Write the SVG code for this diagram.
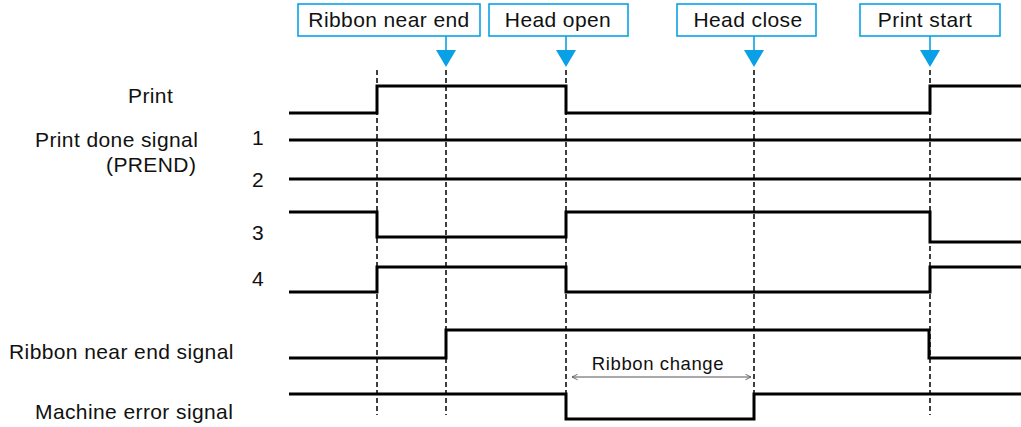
<svg xmlns="http://www.w3.org/2000/svg" width="1021" height="427" viewBox="0 0 1021 427">
<style>
text{font-family:"Liberation Sans",Arial,sans-serif;font-size:21px;letter-spacing:0.4px;fill:#111}
.box{fill:#fff;stroke:#0aa0e6;stroke-width:1.6}
.stem{stroke:#0aa0e6;stroke-width:1.6}
.tri{fill:#0aa0e6}
.sig{fill:none;stroke:#000;stroke-width:3;stroke-linejoin:miter;stroke-linecap:butt}
.dash{stroke:#000;stroke-width:1.5;stroke-dasharray:5 3}
.small{font-size:18.5px;letter-spacing:0.6px}
</style>
<defs>
<marker id="ah" viewBox="0 0 10 10" refX="9" refY="5" markerWidth="7" markerHeight="7" orient="auto-start-reverse" markerUnits="userSpaceOnUse">
<path d="M1,1 L9,5 L1,9" fill="none" stroke="#555" stroke-width="1.2"/>
</marker>
</defs>
<rect width="1021" height="427" fill="#fff"/>

<g id="event-ribbon-near-end">
<rect class="box" x="298" y="4" width="182" height="32"/>
<text x="389" y="27" text-anchor="middle">Ribbon near end</text>
<line class="stem" x1="446" y1="36" x2="446" y2="51"/>
<polygon class="tri" points="436,50 456,50 446,67"/>
</g>
<g id="event-head-open">
<rect class="box" x="489" y="4" width="139" height="32"/>
<text x="558" y="27" text-anchor="middle">Head open</text>
<line class="stem" x1="566" y1="36" x2="566" y2="51"/>
<polygon class="tri" points="556,50 576,50 566,67"/>
</g>
<g id="event-head-close">
<rect class="box" x="677" y="4" width="139" height="32"/>
<text x="748" y="27" text-anchor="middle">Head close</text>
<line class="stem" x1="754" y1="36" x2="754" y2="51"/>
<polygon class="tri" points="744,50 764,50 754,67"/>
</g>
<g id="event-print-start">
<rect class="box" x="860" y="4" width="140" height="32"/>
<text x="925" y="27" text-anchor="middle">Print start</text>
<line class="stem" x1="930" y1="36" x2="930" y2="51"/>
<polygon class="tri" points="920,50 940,50 930,67"/>
</g>

<g id="labels">
<text x="128" y="103">Print</text>
<text x="35" y="147">Print done signal</text>
<text x="106" y="172" letter-spacing="1.3">(PREND)</text>
<text x="252" y="145">1</text>
<text x="252" y="187">2</text>
<text x="252" y="240">3</text>
<text x="252" y="286">4</text>
<text x="9" y="359">Ribbon near end signal</text>
<text x="35" y="419">Machine error signal</text>
</g>

<g id="guides">
<line class="dash" x1="377" y1="70" x2="377" y2="415"/>
<line class="dash" x1="446" y1="70" x2="446" y2="415"/>
<line class="dash" x1="566" y1="70" x2="566" y2="415"/>
<line class="dash" x1="754" y1="70" x2="754" y2="415"/>
<line class="dash" x1="930" y1="70" x2="930" y2="415"/>
</g>

<g id="signals">
<path id="sig-print" class="sig" d="M289,113 H377 V86 H566 V113 H930 V86 H1021"/>
<path id="sig-prend1" class="sig" d="M289,140 H1021"/>
<path id="sig-prend2" class="sig" d="M289,179 H1021"/>
<path id="sig-prend3" class="sig" d="M289,212 H377 V237 H566 V212 H930 V242 H1021"/>
<path id="sig-prend4" class="sig" d="M289,292 H377 V267 H566 V292 H930 V267 H1021"/>
<path id="sig-ribbon" class="sig" d="M289,358 H446 V330 H929 V358 H1021"/>
<path id="sig-error" class="sig" d="M289,394 H566 V419 H754 V394 H1021"/>
</g>

<g id="ribbon-change">
<line x1="572" y1="377" x2="751" y2="377" stroke="#555" stroke-width="1" marker-start="url(#ah)" marker-end="url(#ah)"/>
<text class="small" x="658" y="370" text-anchor="middle">Ribbon change</text>
</g>
</svg>
